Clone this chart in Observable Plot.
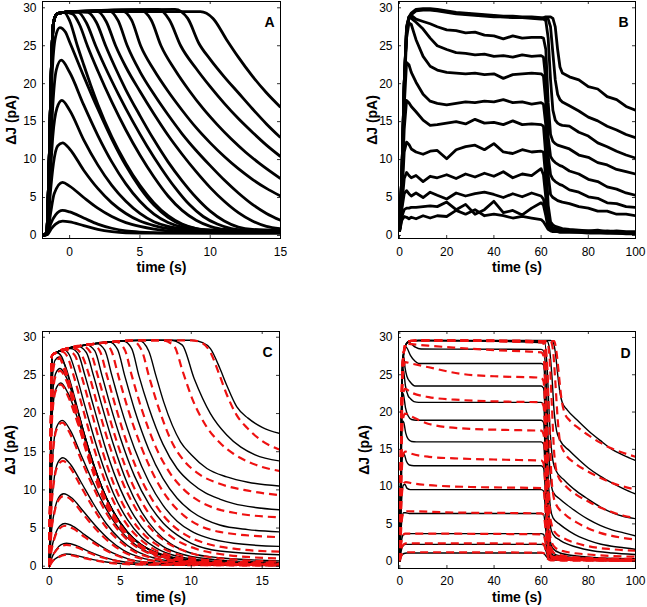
<!DOCTYPE html>
<html><head><meta charset="utf-8">
<script src="https://cdn.jsdelivr.net/npm/d3@7"></script>
<script src="https://cdn.jsdelivr.net/npm/@observablehq/plot@0.6"></script>
<style>
body{margin:0;background:#fff;}
#fig{position:relative;width:647px;height:607px;overflow:hidden;background:#fff;}
#fig svg{position:absolute;}
</style></head><body><div id="fig"></div>
<script>
// ---------- tick labels ----------
const aXTicks = [0, 5, 10, 15];
const bXTicks = [0, 20, 40, 60, 80, 100];
const cXTicks = [0, 5, 10, 15];
const dXTicks = [0, 20, 40, 60, 80, 100];
const yTicks = [0, 5, 10, 15, 20, 25, 30];
const panelLetters = ["A", "B", "C", "D"];
const xLabel = "time (s)";
const yLabel = "ΔJ (pA)";

// ---------- Panel A: measured traces [time, ΔJ] ----------
const aTraces = [
 [[-2,0],[-1.6,0.1],[-1.3,0.9],[-1,1.5],[-0.5,1.9],[0,1.8],[1,1.3],[2,0.8],[3,0.5],[4,0.35],[6,0.3],[10,0.3],[15,0.3]],
 [[-2,0],[-1.6,0.1],[-1.35,1.5],[-1,2.7],[-0.5,3.3],[0,3.1],[1,2.3],[2,1.5],[3,0.95],[4,0.6],[5,0.45],[7,0.35],[15,0.3]],
 [[-2,0],[-1.6,0.15],[-1.35,3],[-1.1,5.5],[-0.5,7.0],[0,6.5],[1,5.0],[2,3.6],[3,2.5],[4,1.7],[5,1.2],[6,0.85],[8,0.5],[15,0.4]],
 [[-2,0],[-1.6,0.2],[-1.4,5],[-1.15,9.5],[-0.85,11.8],[-0.5,12.2],[0,11.4],[1,8.6],[2,6.2],[3,4.3],[4,2.9],[5,1.9],[6,1.3],[7,0.9],[9,0.6],[15,0.5]],
 [[-2,0],[-1.6,0.2],[-1.4,7],[-1.2,13],[-0.9,16.8],[-0.55,17.8],[0,16.5],[1,12.6],[2,9.3],[3,6.6],[4,4.5],[5,2.9],[6,1.8],[7,1.2],[8,0.9],[10,0.6],[15,0.5]],
 [[-2,0],[-1.6,0.2],[-1.4,9],[-1.2,17],[-0.95,21.8],[-0.6,23.1],[0,21.5],[1,17.2],[2,13.2],[3,9.7],[4,6.8],[5,4.5],[6,2.8],[7,1.7],[8,1.1],[9,0.8],[15,0.5]],
 [[-2,0],[-1.6,0.2],[-1.45,10],[-1.25,21],[-1,26.2],[-0.7,27.4],[-0.3,26.8],[0,25.5],[1,21.0],[2,16.7],[3,12.7],[4,9.2],[5,6.3],[6,4.0],[7,2.4],[8,1.4],[9,0.9],[10,0.7],[15,0.5]],
 [[-2,0],[-1.65,0.3],[-1.45,10],[-1.3,22],[-1.15,28],[-0.9,29.2],[-0.4,29.4],[0,28.3],[0.55,25],[1,22.5],[1.5,19.8],[2,17.3],[3,13.0],[4,9.5],[5,6.6],[6,4.3],[7,2.6],[8,1.5],[9,0.9],[10,0.6],[15,0.5]],
 [[-2,0],[-1.65,0.3],[-1.45,10],[-1.3,22],[-1.15,28],[-0.9,29.2],[-0.4,29.4],[0.2,29.2],[0.7,27.8],[1.26,25],[2,21.7],[3,17.6],[4,13.9],[5,10.6],[6,7.7],[7,5.2],[8,3.3],[9,2.0],[10,1.2],[11,0.8],[15,0.6]],
 [[-2,0],[-1.65,0.3],[-1.45,10],[-1.3,22],[-1.15,28],[-0.9,29.2],[-0.4,29.4],[0.6,29.4],[1.2,28],[1.85,25],[2.5,22.3],[3.5,18.5],[4.5,15.0],[5.5,11.8],[6.5,8.9],[7.5,6.3],[8.5,4.1],[9.5,2.5],[10.5,1.5],[11.5,0.9],[13,0.6],[15,0.6]],
 [[-2,0],[-1.65,0.3],[-1.45,10],[-1.3,22],[-1.15,28],[-0.9,29.2],[-0.4,29.4],[0,29.5],[1.3,29.4],[1.9,28.1],[2.56,25],[3.2,22.3],[4,19.2],[5,15.8],[6,12.6],[7,9.7],[8,7.2],[9,5.0],[10,3.2],[11,1.9],[12,1.1],[13,0.8],[15,0.7]],
 [[-2,0],[-1.65,0.3],[-1.45,10],[-1.3,22],[-1.15,28],[-0.9,29.2],[-0.4,29.4],[0,29.5],[2,29.5],[2.6,28.2],[3.27,25],[4,22.2],[5,19.0],[6,16.0],[7,13.2],[8,10.7],[9,8.4],[10,6.3],[11,4.5],[12,3.0],[13,1.9],[14,1.2],[15,0.9]],
 [[-2,0],[-1.65,0.3],[-1.45,10],[-1.3,22],[-1.15,28],[-0.9,29.2],[-0.4,29.4],[0,29.5],[2.8,29.6],[3.45,28.3],[4.1,25],[5,21.6],[6,18.6],[7,15.9],[8,13.4],[9,11.2],[10,9.2],[11,7.3],[12,5.6],[13,4.1],[14,2.9],[15,2.0]],
 [[-2,0],[-1.65,0.3],[-1.45,10],[-1.3,22],[-1.15,28],[-0.9,29.2],[-0.4,29.4],[0,29.5],[3.7,29.6],[4.4,28.4],[5.05,25],[6,21.8],[7,19.0],[8,16.5],[9,14.2],[10,12.2],[11,10.4],[12,8.8],[13,7.4],[14,6.2],[15,5.2]],
 [[-2,0],[-1.65,0.3],[-1.45,10],[-1.3,22],[-1.15,28],[-0.9,29.2],[-0.4,29.4],[0,29.5],[5,29.7],[5.8,28.4],[6.5,25],[7.5,21.8],[8.5,19.1],[9.5,16.7],[10.5,14.6],[11.5,12.7],[12.5,11.0],[13.5,9.5],[15,7.5]],
 [[-2,0],[-1.65,0.3],[-1.45,10],[-1.3,22],[-1.15,28],[-0.9,29.2],[-0.4,29.4],[0,29.5],[6.3,29.8],[7.1,28.4],[7.9,25],[9,22.0],[10,19.6],[11,17.4],[12,15.4],[13,13.6],[14,11.9],[15,10.4]],
 [[-2,0],[-1.65,0.3],[-1.45,10],[-1.3,22],[-1.15,28],[-0.9,29.2],[-0.4,29.4],[0,29.5],[7.5,29.8],[8.4,28.6],[9.2,25.3],[10,23.2],[11,20.9],[12,18.8],[13,16.7],[14,14.7],[15,12.9]],
 [[-2,0],[-1.65,0.3],[-1.45,10],[-1.3,22],[-1.15,28],[-0.9,29.2],[-0.4,29.4],[0,29.5],[9.3,29.5],[10.2,28.6],[11.2,25.7],[12,23.5],[13,21.0],[14,18.8],[15,16.9]]
];

// ---------- Panel B: measured traces on a common time grid ----------
const bTime = [0,1,2,3,4,5,7,10,13,16,20,24,28,32,36,40,44,48,52,56,60,61,62,63,64,65,66,67,68,69,72,76,80,84,88,92,96,100];
const bTraces = [
 [0.5,8,20,27,28.8,29.3,29.8,29.9,29.9,29.8,29.6,29.4,29.3,29.2,29.1,29.0,28.9,28.9,28.8,28.8,28.7,28.7,28.8,28.8,28.8,28.6,27.5,24.5,22.2,21.4,20.9,20.5,19.6,19.3,18.3,17.9,17.0,16.5],
 [0.5,8,20,27,28.7,29.2,29.7,29.8,29.8,29.7,29.5,29.3,29.2,29.1,29.0,28.9,28.8,28.8,28.7,28.7,28.6,28.6,28.6,28.5,27.5,24,20.5,18.6,17.9,17.6,17.1,16.4,15.6,15.1,14.4,13.9,13.3,12.9],
 [0.5,8,20,27,28.6,29.1,29.6,29.7,29.7,29.6,29.4,29.2,29.1,29.0,28.9,28.8,28.8,28.7,28.7,28.6,28.5,28.5,28.3,26,20.5,16.5,15.2,14.8,14.6,14.5,14.4,13.6,13.1,12.2,11.7,11.1,10.6,10.2],
 [0.5,8,20,27.5,28.8,29.0,28.5,28.2,27.9,27.5,27.1,27.0,26.7,26.8,26.4,26.3,25.9,26.3,26.0,26.1,26.1,26.0,24.5,17.5,13.3,12.4,12.1,11.9,11.8,11.7,11.4,10.6,10.3,9.6,9.3,8.7,8.4,8.1],
 [0.5,8,20,27.5,28.7,28.6,28.1,27.2,26.0,25.0,24.5,24.1,24.0,23.8,23.9,23.6,23.7,23.5,23.8,23.6,23.7,23.5,20.5,13,10.4,9.9,9.6,9.4,9.2,9.1,8.5,8.1,7.4,7.1,6.4,6.1,5.6,5.3],
 [0.5,8,19,26,28.0,27.8,25.8,23.6,22.3,21.8,21.5,21.4,21.3,21.4,21.2,21.3,20.7,21.2,21.3,21.4,21.3,21.0,17.5,10.5,8.0,7.4,7.1,6.9,6.7,6.6,6.0,5.7,5.1,4.9,4.3,4.2,3.8,3.7],
 [0.5,7,17,22.8,22.5,21.5,20.2,18.6,17.7,17.4,17.2,17.4,17.6,17.5,17.7,17.6,17.9,17.5,17.6,17.3,17.5,17.3,14.5,8,5.4,5.0,4.8,4.6,4.5,4.4,4.2,3.8,3.6,3.2,3.2,2.8,2.8,2.6],
 [0.5,6,14,17.8,17.5,17.0,16.3,15.2,14.5,14.6,14.8,15.0,14.7,15.3,14.8,14.9,14.6,15.1,14.6,14.7,14.6,14.4,10.5,4,1.8,1.4,1.2,1.1,1.0,0.9,0.8,0.7,0.6,0.7,0.5,0.6,0.5,0.5],
 [0.5,5,11,12.3,12.0,11.4,11.0,10.7,11.1,11.2,10.1,11.3,11.7,11.9,11.3,12.1,11.0,10.8,11.3,11.0,11.1,11.0,7.5,2.5,1.3,1.0,0.9,0.8,0.8,0.7,0.7,0.6,0.6,0.5,0.6,0.5,0.4,0.4],
 [0.5,4,7.5,8.3,7.9,7.6,7.9,7.1,7.8,7.6,8.0,7.5,8.1,7.7,8.2,7.8,8.4,7.6,8.1,7.9,8.8,8.0,5,1.6,1.1,0.9,0.8,0.7,0.7,0.6,0.6,0.5,0.5,0.4,0.5,0.4,0.4,0.3],
 [0.5,3.5,5.5,5.9,5.5,5.2,5.6,5.0,5.7,5.3,4.8,5.6,5.2,5.5,5.7,5.4,5.0,5.5,5.1,5.6,5.2,4.8,3.2,1.2,0.9,0.8,0.7,0.6,0.6,0.5,0.5,0.5,0.4,0.4,0.4,0.3,0.3,0.3],
 [0.5,2.5,3.4,3.6,3.6,3.7,3.7,3.8,3.9,3.8,4.4,3.4,4.1,2.8,3.4,4.5,3.0,3.3,2.7,3.6,4.3,4.0,2.6,1.0,0.8,0.7,0.6,0.6,0.5,0.5,0.5,0.4,0.4,0.4,0.3,0.3,0.3,0.3],
 [0.5,2.0,2.5,2.4,2.2,2.4,2.2,2.6,2.3,2.6,2.5,3.3,2.8,3.4,2.6,2.8,2.6,2.3,2.5,2.3,2.1,1.8,1.3,0.8,0.6,0.5,0.5,0.5,0.4,0.4,0.4,0.4,0.3,0.3,0.3,0.3,0.2,0.2]
];

// ---------- Panel C: model (black) and fit (red dashed) [time, ΔJ] ----------
const cBlack = [
 [[0,0],[0.2,0.6],[0.6,1.2],[1.2,1.6],[2,1.35],[3,0.9],[4,0.55],[5,0.35],[7,0.2],[16.2,0.1]],
 [[0,0],[0.15,1.0],[0.45,2.1],[0.8,2.8],[1.2,3.0],[1.9,2.7],[2.8,1.9],[3.8,1.2],[5,0.65],[6.5,0.35],[9,0.2],[16.2,0.1]],
 [[0,0],[0.15,2.2],[0.4,4.1],[0.75,5.3],[1.1,5.6],[1.7,5.2],[2.5,4.1],[3.5,2.8],[4.5,1.7],[5.5,1.0],[7,0.5],[9,0.3],[16.2,0.15]],
 [[0,0],[0.12,4],[0.35,7.2],[0.65,9.0],[1.0,9.5],[1.6,8.9],[2.3,7.4],[3.2,5.4],[4.2,3.5],[5.2,2.1],[6.5,1.1],[8,0.6],[10,0.35],[16.2,0.2]],
 [[0,0],[0.1,6],[0.3,11],[0.6,13.6],[0.95,14.2],[1.5,13.3],[2.2,11.1],[3,8.5],[4,5.6],[5,3.5],[6,2.1],[7,1.3],[8.5,0.7],[11,0.4],[16.2,0.2]],
 [[0,0],[0.1,9],[0.25,15],[0.5,18.2],[0.9,19.1],[1.5,17.7],[2.2,14.7],[3,11.3],[4,7.5],[5,4.7],[6,2.9],[7,1.8],[8.5,0.9],[11,0.45],[16.2,0.2]],
 [[0,0],[0.08,11],[0.2,20],[0.45,23.2],[0.8,24.0],[1.3,22.7],[2,19.3],[3,13.8],[4,9.0],[5,5.7],[6,3.5],[7,2.2],[8.5,1.1],[11,0.5],[16.2,0.25]],
 [[0,0],[0.08,12],[0.2,22],[0.45,25.3],[0.75,25.9],[1.2,24.7],[1.8,21.5],[2.7,15.7],[3.7,10.3],[4.7,6.5],[5.7,4.0],[7,2.2],[8.5,1.1],[11,0.55],[16.2,0.3]],
 [[0,0],[0.08,13],[0.18,24],[0.4,27],[0.7,27.4],[1.1,26.3],[1.6,23.3],[2.5,17.0],[3.5,11.3],[4.5,7.2],[5.5,4.5],[6.5,2.8],[8,1.5],[10,0.8],[13,0.45],[16.2,0.3]],
 [[0,0],[0.08,14],[0.18,27.6],[0.5,28.0],[0.85,27.5],[1.3,25],[1.9,21],[2.9,14.6],[3.9,9.4],[4.9,5.9],[5.9,3.6],[7,2.2],[8.5,1.2],[11,0.6],[16.2,0.35]],
 [[0,0],[0.08,14],[0.18,27.6],[0.5,28.0],[1,28.4],[1.4,27.7],[1.9,25],[2.5,21],[3.5,14.7],[4.5,9.6],[5.5,6.1],[6.5,3.8],[7.5,2.4],[9,1.3],[12,0.6],[16.2,0.4]],
 [[0,0],[0.08,14],[0.18,27.6],[0.5,28.0],[1,28.4],[1.5,28.5],[2,27.9],[2.5,25],[3.1,21],[4,15.2],[5,10.1],[6,6.5],[7,4.1],[8,2.6],[9.5,1.5],[12,0.8],[16.2,0.5]],
 [[0,0],[0.08,14],[0.18,27.6],[0.5,28.0],[1,28.4],[2,28.8],[2.6,28],[3.1,25],[3.7,21],[4.5,16.0],[5.5,10.8],[6.5,7.1],[7.5,4.6],[8.5,3.0],[10,1.7],[12,1.1],[16.2,0.7]],
 [[0,0],[0.08,14],[0.18,27.6],[0.5,28.0],[1,28.4],[2,28.8],[2.6,29.0],[3.2,28.2],[3.7,25],[4.3,21],[5,16.8],[6,11.8],[7,8.2],[8,5.7],[9,4.1],[10,3.0],[12,2.0],[16.2,1.5]],
 [[0,0],[0.08,14],[0.18,27.6],[0.5,28.0],[1,28.4],[2,28.8],[3,29.1],[3.3,29.2],[3.9,28.3],[4.4,25],[5,21],[6,15.4],[7,11.1],[8,8.0],[9,5.9],[10,4.6],[11,3.8],[13,3.0],[16.2,2.6]],
 [[0,0],[0.08,14],[0.18,27.6],[0.5,28.0],[1,28.4],[2,28.8],[3,29.1],[4.2,29.4],[4.8,28.4],[5.3,25],[6,20.5],[7,15.3],[8,11.5],[9,8.9],[10,7.2],[11,6.1],[12,5.4],[14,4.8],[16.2,4.5]],
 [[0,0],[0.08,14],[0.18,27.6],[0.5,28.0],[1,28.4],[2,28.8],[3,29.1],[4,29.3],[5.2,29.5],[5.8,28.5],[6.3,25],[7,20.8],[8,16.0],[9,12.8],[10,10.9],[11,9.6],[12,8.8],[13,8.2],[14.5,7.7],[16.2,7.4]],
 [[0,0],[0.08,14],[0.18,27.6],[0.5,28.0],[1,28.4],[2,28.8],[3,29.1],[4,29.3],[5,29.5],[6.3,29.6],[7,28.2],[7.5,25.0],[8.06,21.5],[9.24,16.3],[10,14.6],[11.1,12.8],[12.5,11.7],[14,11.0],[16.2,10.5]],
 [[0,0],[0.08,14],[0.18,27.6],[0.5,28.0],[1,28.4],[2,28.8],[3,29.1],[4,29.3],[5,29.5],[7,29.6],[8.5,29.6],[9.35,29.0],[10.2,24.6],[11.35,20.0],[12.5,17.2],[13.5,15.6],[14.5,14.6],[16.2,13.8]],
 [[0,0],[0.08,14],[0.18,27.6],[0.5,28.0],[1,28.4],[2,28.8],[3,29.1],[4,29.3],[5,29.5],[7,29.6],[10,29.6],[10.8,29.3],[11.35,28.5],[12,26],[12.5,23.7],[13.2,20.9],[14,19.4],[15,18.2],[16.2,17.4]]
];
const cRed = [
 [[0,0],[0.2,0.6],[0.6,1.15],[1.2,1.5],[2,1.25],[3,0.85],[4,0.5],[5,0.3],[7,0.2],[16.2,0.1]],
 [[0,0],[0.15,1.0],[0.45,2.0],[0.8,2.6],[1.2,2.8],[1.9,2.5],[2.8,1.75],[3.8,1.1],[5,0.6],[6.5,0.3],[9,0.2],[16.2,0.1]],
 [[0,0],[0.15,2.1],[0.4,3.9],[0.75,5.0],[1.1,5.3],[1.7,4.9],[2.5,3.8],[3.5,2.6],[4.5,1.6],[5.5,0.9],[7,0.45],[9,0.3],[16.2,0.15]],
 [[0,0],[0.12,4],[0.35,7.0],[0.65,8.7],[1.0,9.2],[1.6,8.6],[2.3,7.0],[3.2,5.0],[4.2,3.2],[5.2,1.9],[6.5,1.0],[8,0.55],[10,0.35],[16.2,0.2]],
 [[0,0],[0.1,6],[0.3,10.8],[0.6,13.2],[0.95,13.8],[1.5,12.8],[2.2,10.5],[3,7.9],[4,5.1],[5,3.2],[6,1.9],[7,1.2],[8.5,0.65],[11,0.4],[16.2,0.2]],
 [[0,0],[0.1,9],[0.25,14.8],[0.5,17.9],[0.9,18.8],[1.5,17.2],[2.2,14.1],[3,10.7],[4,7.0],[5,4.4],[6,2.7],[7,1.7],[8.5,0.85],[11,0.45],[16.2,0.2]],
 [[0,0],[0.08,11],[0.2,19.8],[0.45,23.0],[0.8,23.8],[1.3,22.3],[2,18.7],[3,13.2],[4,8.5],[5,5.3],[6,3.3],[7,2.0],[8.5,1.0],[11,0.5],[16.2,0.25]],
 [[0,0],[0.08,12],[0.2,21.8],[0.45,25.0],[0.75,25.6],[1.2,24.3],[1.8,20.9],[2.7,15.1],[3.7,9.9],[4.7,6.2],[5.7,3.8],[7,2.1],[8.5,1.05],[11,0.5],[16.2,0.3]],
 [[0,0],[0.08,13],[0.18,24],[0.4,26.8],[0.7,27.2],[1.1,25.9],[1.6,22.8],[2.5,16.3],[3.5,10.7],[4.5,6.8],[5.5,4.2],[6.5,2.6],[8,1.4],[10,0.75],[13,0.4],[16.2,0.3]],
 [[0,0],[0.08,14],[0.18,27.6],[0.5,28.0],[0.75,27.3],[1.15,25],[1.7,21],[2.7,14.4],[3.7,9.2],[4.7,5.7],[5.7,3.5],[6.8,2.1],[8.3,1.1],[11,0.5],[16.2,0.3]],
 [[0,0],[0.08,14],[0.18,27.6],[0.5,28.0],[0.9,28.1],[1.25,27.5],[1.7,25],[2.3,21],[3.3,14.5],[4.3,9.4],[5.3,5.9],[6.3,3.7],[7.3,2.3],[9,1.2],[12,0.55],[16.2,0.35]],
 [[0,0],[0.08,14],[0.18,27.6],[0.5,28.0],[1,28.4],[1.35,28.2],[1.8,27.6],[2.25,25],[2.85,21],[3.75,15.0],[4.75,9.8],[5.75,6.3],[6.75,4.0],[7.75,2.6],[9.3,1.4],[12,0.7],[16.2,0.45]],
 [[0,0],[0.08,14],[0.18,27.6],[0.5,28.0],[1,28.4],[1.8,28.5],[2.3,27.6],[2.8,25],[3.4,21],[4.2,16.0],[5.2,10.8],[6.2,7.2],[7.2,4.8],[8.2,3.2],[10,1.7],[12.5,0.95],[16.2,0.6]],
 [[0,0],[0.08,14],[0.18,27.6],[0.5,28.0],[1,28.4],[2.3,28.9],[2.9,28.0],[3.4,25],[4,21],[4.7,16.6],[5.7,11.4],[6.7,7.8],[7.7,5.3],[8.7,3.7],[10,2.5],[12,1.6],[16.2,1.0]],
 [[0,0],[0.08,14],[0.18,27.6],[0.5,28.0],[1,28.4],[2,28.8],[3,29.1],[3.55,28.2],[4.05,25],[4.65,21],[5.6,15.4],[6.6,10.9],[7.6,7.7],[8.6,5.5],[9.6,4.1],[11,3.0],[13,2.3],[16.2,1.9]],
 [[0,0],[0.08,14],[0.18,27.6],[0.5,28.0],[1,28.4],[2,28.8],[3,29.1],[3.8,29.3],[4.35,28.3],[4.85,25],[5.5,20.8],[6.5,15.5],[7.5,11.4],[8.5,8.5],[9.5,6.6],[10.5,5.4],[12,4.5],[16.2,3.8]],
 [[0,0],[0.08,14],[0.18,27.6],[0.5,28.0],[1,28.4],[2,28.8],[3,29.1],[4,29.3],[4.7,29.4],[5.3,28.4],[5.8,25],[6.5,20.6],[7.5,15.6],[8.5,12.2],[9.5,10.0],[10.5,8.6],[11.5,7.7],[13,7.0],[16.2,6.4]],
 [[0,0],[0.08,14],[0.18,27.6],[0.5,28.0],[1,28.4],[2,28.8],[3,29.1],[4,29.3],[5,29.5],[5.8,29.6],[6.5,28.3],[7.0,25],[7.6,21.3],[8.7,16.0],[9.5,13.8],[10.6,12.0],[12,10.8],[14,9.9],[16.2,9.3]],
 [[0,0],[0.08,14],[0.18,27.6],[0.5,28.0],[1,28.4],[2,28.8],[3,29.1],[4,29.3],[5,29.5],[7,29.6],[8,29.6],[8.8,28.8],[9.4,25.5],[10.1,21.8],[11,18.5],[12,16.2],[13,14.7],[14,13.7],[15,13.0],[16.2,12.5]],
 [[0,0],[0.08,14],[0.18,27.6],[0.5,28.0],[1,28.4],[2,28.8],[3,29.1],[4,29.3],[5,29.5],[7,29.6],[10,29.6],[10.8,29.2],[11.3,28.2],[12,25],[12.5,22.5],[13.2,19.8],[14,18.0],[15,16.4],[16.2,15.3]]
];

// ---------- Panel D: model (black) and fit (red dashed) [time, ΔJ] ----------
const dBlack = [
 [[0,0],[0.4,12],[0.9,23],[1.5,27.5],[2.5,29],[4,29.5],[8,29.6],[64,29.6],[65,29.4],[66,28],[67,25],[68,22.5],[69,21.2],[71,20.3],[75,19.0],[80,17.5],[85,16.2],[90,15.0],[95,14.2],[100,13.5]],
 [[0,0],[0.4,12],[0.9,23],[1.5,27.5],[2.5,29],[4,29.5],[8,29.6],[62.5,29.5],[63.5,28.5],[64.5,25],[65.5,20],[66.5,17.5],[68,16.2],[72,14.8],[76,13.6],[80,12.5],[85,11.4],[90,10.5],[95,9.7],[100,9.0]],
 [[0,0],[0.4,12],[0.9,23],[1.5,27.5],[2.5,29],[4,29.5],[8,29.6],[61.5,29.3],[62.5,26],[63.5,19],[64.5,14.5],[66,12.3],[70,10.8],[75,9.4],[80,8.3],[85,7.3],[90,6.5],[95,6.0],[100,5.7]],
 [[0,0],[0.4,12],[0.9,23],[1.5,27.5],[2.5,29],[3.7,29.4],[5,29.1],[6.6,28.7],[9,28.45],[60,28.4],[61,28.2],[62,25],[63,16],[64,11],[65,9.3],[68,8.3],[72,7.3],[76,6.4],[80,5.6],[85,4.8],[90,4.2],[95,3.8],[100,3.4]],
 [[0,0],[0.4,12],[0.9,23],[1.4,27.5],[2.2,28.8],[3,28.6],[4.5,27.6],[6.5,26.8],[8,26.5],[60,26.5],[61,26.3],[62,21],[63,11],[64,7],[65,5.8],[68,4.9],[72,4.0],[76,3.3],[80,2.8],[85,2.3],[90,2.0],[95,1.8],[100,1.6]],
 [[0,0],[0.4,12],[0.8,22.5],[1.2,27.2],[1.6,27.6],[2.2,26.0],[3,24.8],[4.5,24.0],[6.5,23.5],[60,23.5],[61,23.2],[62,17],[63,7.5],[64,4.5],[65,3.6],[68,2.8],[72,2.2],[76,1.8],[80,1.5],[90,1.1],[100,0.9]],
 [[0,0],[0.4,12],[0.8,22],[1.2,25.8],[1.6,25.5],[2.4,23.5],[3.5,22.2],[4.5,21.8],[6,21.4],[8,21.3],[60,21.3],[61,21],[62,14],[63,5],[64,2.5],[65,1.7],[68,1.1],[75,0.7],[85,0.45],[100,0.35]],
 [[0,0],[0.4,11],[0.8,19.5],[1.2,22.6],[1.6,22.3],[2.4,20.6],[3.5,19.5],[5,19.0],[7,18.9],[60,18.9],[61,18.6],[62,12],[63,4],[64,1.8],[65,1.1],[68,0.7],[80,0.4],[100,0.3]],
 [[0,0],[0.4,9],[0.8,16],[1.2,18.8],[1.7,18.6],[2.5,17.2],[3.5,16.4],[5,16.05],[7,16.0],[60,16.0],[61,15.7],[62,10],[63,3.2],[64,1.3],[65,0.8],[70,0.45],[100,0.25]],
 [[0,0],[0.4,7],[0.8,12],[1.3,14.4],[1.9,14.3],[2.8,13.4],[4,12.9],[6,12.8],[60,12.8],[61,12.5],[62,8],[63,2.5],[64,1.0],[65,0.6],[72,0.35],[100,0.2]],
 [[0,0],[0.4,5],[0.9,8.8],[1.5,10.2],[2.2,10.3],[3,9.8],[4.5,9.6],[60,9.6],[61,9.4],[62,6],[63,1.8],[64,0.8],[66,0.45],[100,0.2]],
 [[0,0],[0.4,3.2],[0.9,5.6],[1.6,6.5],[2.5,6.5],[4,6.4],[60,6.4],[61,6.3],[62,4],[63,1.2],[64,0.5],[67,0.3],[100,0.15]],
 [[0,0],[0.6,2.4],[1.2,3.4],[2.2,3.7],[60,3.7],[61,3.6],[62,2.3],[63,0.8],[64,0.35],[100,0.1]],
 [[0,0],[0.6,1.4],[1.3,2.05],[2.5,2.25],[60,2.25],[61,2.2],[62,1.4],[63,0.5],[64,0.25],[100,0.1]],
 [[0,0],[0.7,0.7],[1.5,1.0],[3,1.1],[60,1.1],[61,1.05],[62,0.7],[63,0.3],[64,0.15],[100,0.05]]
];
const dRed = [
 [[0,0],[0.4,12],[0.9,23],[1.5,27.5],[2.5,29],[4,29.5],[8,29.6],[65.5,29.5],[66.5,28],[67.5,25],[68.5,22],[70,19.8],[72,18.9],[76,17.8],[80,16.9],[85,15.9],[90,15.1],[95,14.5],[100,14.0]],
 [[0,0],[0.4,12],[0.9,23],[1.5,27.5],[2.5,29],[4,29.5],[8,29.6],[64,29.5],[65,28.3],[66,24],[67,19],[68,16],[70,14.5],[74,13.2],[80,12.0],[85,11.2],[90,10.5],[95,10.0],[100,9.6]],
 [[0,0],[0.4,12],[0.9,23],[1.5,27.5],[2.5,29],[4,29.5],[8,29.6],[62.5,29.4],[63.5,27.5],[64.5,21],[65.5,14.5],[67,11.5],[70,10.2],[75,8.9],[80,8.0],[85,7.2],[90,6.6],[95,6.1],[100,5.8]],
 [[0,0],[0.4,12],[0.9,23],[1.5,27.5],[2.5,29],[4,29.5],[8,29.6],[61.5,29.3],[62.5,26.5],[63.5,18],[64.5,10.5],[66,7.8],[70,6.3],[75,5.2],[80,4.4],[85,3.8],[90,3.4],[95,3.1],[100,2.9]],
 [[0,0],[0.4,12],[0.9,23],[1.5,27.5],[2.5,29],[4,29.5],[8,29.6],[60.5,29.5],[61.3,28.6],[62,23],[63,12],[64,5.5],[66,3.8],[70,3.0],[75,2.4],[80,2.0],[90,1.6],[100,1.4]],
 [[0,0],[0.4,12],[0.9,23],[1.5,27.5],[2.4,29.2],[5,29.1],[12,28.9],[25,28.6],[40,28.3],[60,28.0],[61,27.5],[62,20],[63,8],[64,3],[66,1.8],[70,1.3],[80,0.9],[100,0.6]],
 [[0,0],[0.4,11],[0.9,21.5],[1.5,25.5],[2.2,26.7],[5,26.5],[12.3,26.0],[26.5,25.1],[40,24.8],[60,24.6],[61,24.1],[62,17],[63,6],[64,2],[66,1.0],[75,0.5],[100,0.3]],
 [[0,0],[0.4,10],[0.9,19],[1.5,22.5],[2.2,23.1],[5,22.6],[12.3,22.0],[26.5,21.6],[45,21.4],[60,21.3],[61,20.8],[62,14],[63,4.5],[64,1.5],[66,0.7],[80,0.3],[100,0.2]],
 [[0,0],[0.4,9],[0.9,16.5],[1.5,19.3],[2.2,19.8],[5,19.4],[12.3,18.4],[26.5,17.8],[45,17.6],[60,17.5],[61,17.0],[62,11],[63,3.5],[64,1.1],[66,0.5],[100,0.15]],
 [[0,0],[0.4,7],[0.9,12.5],[1.5,14.3],[2.3,14.7],[5,14.4],[12.3,14.0],[26.5,13.75],[45,13.6],[60,13.5],[61,13.1],[62,8.5],[63,2.6],[64,0.8],[66,0.4],[100,0.1]],
 [[0,0],[0.4,5],[0.9,9],[1.6,10.4],[2.5,10.6],[6,10.4],[12.3,10.2],[30,9.95],[60,9.8],[61,9.5],[62,6],[63,1.8],[64,0.6],[100,0.1]],
 [[0,0],[0.4,3.2],[0.9,5.6],[1.8,6.6],[3,6.7],[20,6.55],[60,6.4],[61,6.2],[62,3.9],[63,1.1],[64,0.4],[100,0.1]],
 [[0,0],[0.5,2],[1.1,3.2],[2.2,3.7],[60,3.6],[61,3.5],[62,2.2],[63,0.7],[64,0.25],[100,0.05]],
 [[0,0],[0.5,1.3],[1.2,2.1],[2.5,2.4],[60,2.35],[61,2.3],[62,1.4],[63,0.45],[64,0.2],[100,0.05]],
 [[0,0],[0.6,0.7],[1.5,1.1],[3,1.2],[60,1.15],[61,1.1],[62,0.7],[63,0.25],[64,0.1],[100,0.05]]
];

// ---------- drawing ----------
const FONT = "'Liberation Sans', Arial, Helvetica, sans-serif";
const RED = "#ee1111";
const fig = document.getElementById("fig");

function lines(curves, opts) {
  return curves.map(c => Plot.line(c, {x: d => d[0], y: d => d[1], clip: true, strokeLinejoin: "round", strokeLinecap: "butt", ...opts}));
}

function panel(cfg) {
  const {left, top, width, height, mL, mR, mT, mB, xDomain, yDomain, xTicks, letter, letterDx, letterDy, yLabelDx, xPad, marks} = cfg;
  const innerW = width - mL - mR, innerH = height - mT - mB;
  const svg = Plot.plot({
    width, height,
    marginLeft: mL, marginRight: mR, marginTop: mT, marginBottom: mB,
    style: {fontFamily: FONT, fontSize: "12px", color: "#000", background: "none", overflow: "visible"},
    x: {domain: xDomain},
    y: {domain: yDomain},
    marks: [
      ...marks,
      Plot.frame({stroke: "#000", strokeWidth: 1}),
      Plot.tickX(xTicks, {x: d => d, insetTop: innerH - 3, stroke: "#000", strokeWidth: 0.8}),
      Plot.tickX(xTicks, {x: d => d, insetBottom: innerH - 3, stroke: "#000", strokeWidth: 0.8}),
      Plot.tickY(yTicks, {y: d => d, insetRight: innerW - 3, stroke: "#000", strokeWidth: 0.8}),
      Plot.tickY(yTicks, {y: d => d, insetLeft: innerW - 3, stroke: "#000", strokeWidth: 0.8}),
      Plot.axisX(xTicks, {anchor: "bottom", tickSize: 0, tickPadding: xPad, label: null, fontSize: 12, fill: "#000"}),
      Plot.axisY(yTicks, {anchor: "left", tickSize: 0, tickPadding: 6, label: null, fontSize: 12, fill: "#000"}),
      Plot.text([xLabel], {text: d => d, frameAnchor: "bottom", dy: 29.5, lineAnchor: "middle", textAnchor: "middle", fontSize: 14, fontWeight: "bold", fill: "#000"}),
      Plot.text([yLabel], {text: d => d, frameAnchor: "left", dx: yLabelDx, rotate: -90, lineAnchor: "middle", textAnchor: "middle", fontSize: 14, fontWeight: "bold", fill: "#000"}),
      Plot.text([letter], {text: d => d, frameAnchor: "top-right", dx: letterDx, dy: letterDy, lineAnchor: "middle", textAnchor: "end", fontSize: 14, fontWeight: "bold", fill: "#000"})
    ]
  });
  svg.style.left = left + "px";
  svg.style.top = top + "px";
  fig.appendChild(svg);
}

const bPoints = bTraces.map(ys => bTime.map((t, i) => [t, ys[i]]));

panel({left: 0, top: 0, width: 300, height: 290, mL: 42, mR: 20, mT: 1, mB: 52,
  xDomain: [-1.93, 15], yDomain: [-0.4, 30.83], xTicks: aXTicks, letter: panelLetters[0],
  letterDx: -6, letterDy: 21, yLabelDx: -31, xPad: 9,
  marks: lines(aTraces, {stroke: "#000", strokeWidth: 2.8, curve: "monotone-x"})});

panel({left: 320, top: 0, width: 327, height: 290, mL: 78, mR: 12, mT: 1, mB: 52,
  xDomain: [-0.42, 100], yDomain: [-0.4, 30.83], xTicks: bXTicks, letter: panelLetters[1],
  letterDx: -7, letterDy: 21, yLabelDx: -26, xPad: 9,
  marks: lines(bPoints, {stroke: "#000", strokeWidth: 2.8, curve: "linear"})});

panel({left: 0, top: 320, width: 300, height: 287, mL: 42, mR: 21, mT: 11, mB: 39,
  xDomain: [-0.49, 16.22], yDomain: [-0.3, 30.75], xTicks: cXTicks, letter: panelLetters[2],
  letterDx: -7, letterDy: 21, yLabelDx: -32, xPad: 8,
  marks: [...lines(cBlack, {stroke: "#000", strokeWidth: 1.4, curve: "monotone-x"}),
          ...lines(cRed, {stroke: RED, strokeWidth: 2.2, strokeDasharray: "8,5", curve: "monotone-x"})]});

panel({left: 320, top: 320, width: 327, height: 287, mL: 78, mR: 12, mT: 11, mB: 39,
  xDomain: [-0.55, 100], yDomain: [-0.98, 30.8], xTicks: dXTicks, letter: panelLetters[3],
  letterDx: -5, letterDy: 22, yLabelDx: -34, xPad: 8,
  marks: [...lines(dBlack, {stroke: "#000", strokeWidth: 1.4, curve: "monotone-x"}),
          ...lines(dRed, {stroke: RED, strokeWidth: 2.2, strokeDasharray: "8,5", curve: "monotone-x"})]});
</script></body></html>
